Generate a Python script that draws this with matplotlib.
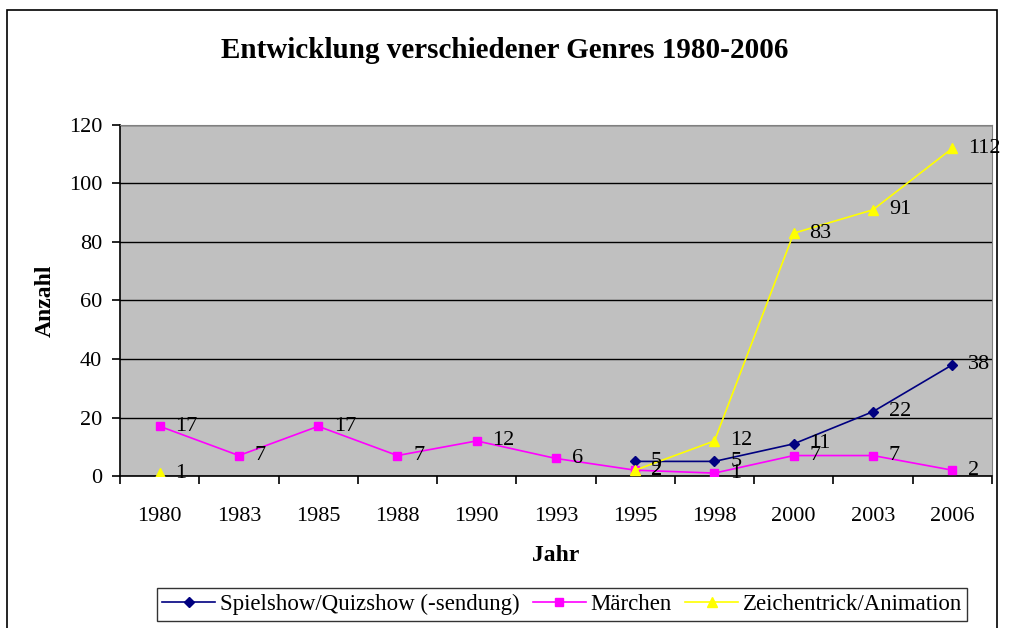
import matplotlib.pyplot as plt
import numpy as np
from matplotlib.patches import Rectangle

years = ["1980", "1983", "1985", "1988", "1990", "1993", "1995", "1998", "2000", "2003", "2006"]
spielshow = [None, None, None, None, None, None, 5, 5, 11, 22, 38]
maerchen = [17, 7, 17, 7, 12, 6, 2, 1, 7, 7, 2]
zeichentrick = [1, None, None, None, None, None, 2, 12, 83, 91, 112]

plt.rcParams['font.family'] = ['Liberation Serif', 'DejaVu Serif']

fig = plt.figure(figsize=(10.09, 6.28), dpi=100)
ax = fig.add_axes([0.119, 0.242, 0.864, 0.559])
ax.set_facecolor("#c0c0c0")

x = np.arange(len(years))


def to_arr(vals):
    return np.array([np.nan if v is None else v for v in vals], dtype=float)


series = [
    ("Spielshow/Quizshow (-sendung)", spielshow, "#000080", "D", 5),
    ("Märchen", maerchen, "#ff00ff", "s", 6),
    ("Zeichentrick/Animation", zeichentrick, "#ffff00", "^", 7),
]
for name, vals, col, mk, ms in series:
    y = to_arr(vals)
    ax.plot(x, y, color=col, marker=mk, markersize=ms, linewidth=1.2, label=name, zorder=3)
    for xi, yi in zip(x, vals):
        if yi is not None:
            ax.text(xi + 0.2, yi, str(yi), fontsize=16, va="center", ha="left", zorder=4)

ax.set_xlim(-0.5, len(years) - 0.5)
ax.set_ylim(0, 120)
ax.set_yticks(range(0, 121, 20))
ax.yaxis.grid(True, color="black", linewidth=1)
ax.set_axisbelow(True)
ax.set_xticks(x)
ax.set_xticklabels(years)
ax.set_xticks(np.arange(-0.5, len(years), 1), minor=True)
ax.tick_params(axis="x", which="major", length=0, pad=22, labelsize=16)
ax.tick_params(axis="x", which="minor", length=6, width=1.2, direction="out")
ax.tick_params(axis="y", length=6, width=1.2, labelsize=16, pad=7)
for s in ["top", "right"]:
    ax.spines[s].set_color("#808080")
ax.spines["left"].set_linewidth(1.2)
ax.spines["bottom"].set_linewidth(1.2)

ax.set_xlabel("Jahr", fontsize=17, fontweight="bold", labelpad=14)
ax.set_ylabel("Anzahl", fontsize=17, fontweight="bold", labelpad=9)
fig.text(0.5, 0.92, "Entwicklung verschiedener Genres 1980-2006", fontsize=21,
         fontweight="bold", ha="center", va="center")

leg = fig.legend(loc="center", bbox_to_anchor=(0.557, 0.037), ncol=3, fontsize=16.5,
                 frameon=True, fancybox=False, edgecolor="black", handlelength=2.3,
                 columnspacing=0.6, handletextpad=0.2, borderpad=0.25)
leg.get_frame().set_linewidth(1)

fig.patches.append(Rectangle((0.007, -0.01), 0.981, 0.994, transform=fig.transFigure,
                             fill=False, edgecolor="black", linewidth=1.2))

fig.savefig("out.png", dpi=100)
